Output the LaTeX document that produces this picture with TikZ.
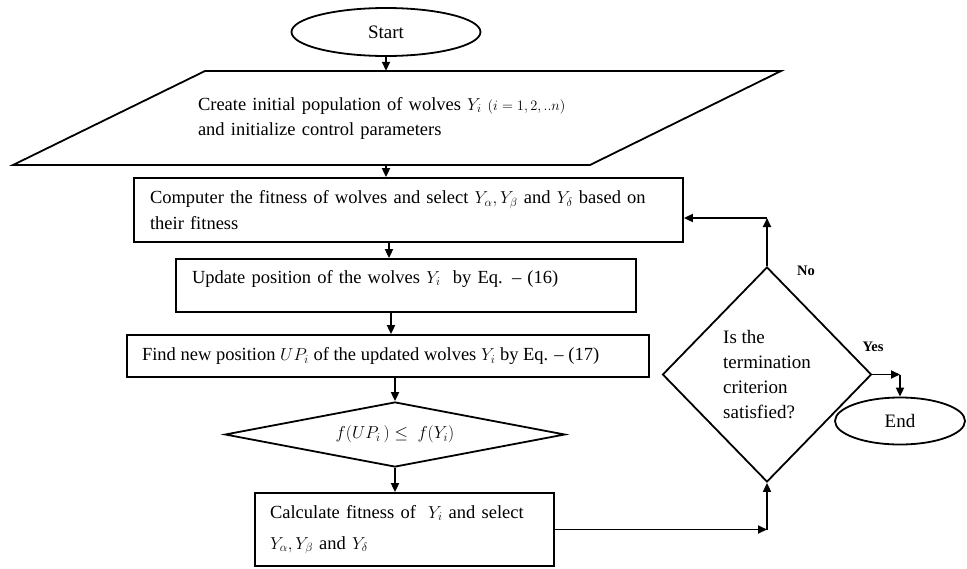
\documentclass[tikz,border=0pt]{standalone}
\usepackage{fontspec}
\setmainfont{Liberation Serif}
\usetikzlibrary{shapes.geometric,arrows.meta,calc}
\begin{document}
\begin{tikzpicture}[x=1pt,y=-1pt,
  lw/.style={line width=1.8pt},
  arr/.style={lw,-{Triangle[length=9pt,width=8pt]}},
  procbox/.style={draw,lw,rectangle,inner ysep=0pt,align=left,
    font=\fontsize{18.5}{26}\selectfont},
  term/.style={draw,lw,ellipse,inner sep=0pt,font=\fontsize{19}{22}\selectfont},
  decide/.style={draw,lw,diamond,inner sep=0pt},
  lbl/.style={font=\fontsize{14.5}{16}\selectfont\bfseries,inner sep=0pt}]
\useasboundingbox (0,0) rectangle (967,568);

% terminals
\node[term,minimum width=189pt,minimum height=48pt] (start) at (386,32) {Start};
\node[term,minimum width=130pt,minimum height=47pt] (end) at (900,421) {End};

% input parallelogram
\draw[lw] (205,71) -- (781,71) -- (590,165) -- (13,165) -- cycle;
\node[inner sep=0pt,minimum height=94pt,text width=398pt,align=left,
  font=\fontsize{18.5}{25}\selectfont] (init) at (397,118)
  {Create initial population of wolves $Y_i$ {\fontsize{14}{14}\selectfont$(i = 1,2,..n)$}\\and initialize control parameters};

% process boxes
\node[procbox,inner xsep=16pt,text width=517pt,minimum height=64pt] (compute) at (408.5,210)
  {Computer the fitness of wolves and select $Y_\alpha, Y_\beta$ and $Y_\delta$ based on\\their fitness};
\node[procbox,inner xsep=16pt,text width=428pt,minimum height=53pt,text height=12pt,text depth=17pt] (update) at (406,285.5)
  {Update position of the wolves $Y_i$\ \ by Eq. -- (16)};
\node[procbox,inner xsep=15pt,minimum height=42pt] (find) at (388,356)
  {\makebox[492pt][l]{Find new position $UP_i$ of the updated wolves $Y_i$ by Eq. -- (17)}};
\node[procbox,inner xsep=15pt,text width=269pt,minimum height=73pt,
  font=\fontsize{18.5}{31}\selectfont] (calc) at (404.5,529.5)
  {Calculate fitness of\ \ $Y_i$ and select\\$Y_\alpha, Y_\beta$ and $Y_\delta$};

% decisions
\node[decide,minimum width=340pt,minimum height=65pt,aspect=5,
  font=\fontsize{18.5}{22}\selectfont] (dec1) at (395,434.5)
  {$f(UP_i\,)\leq\; f(Y_i)$};
\node[decide,minimum width=209pt,minimum height=215pt,aspect=1,align=left,
  font=\fontsize{19}{25}\selectfont] (dec2) at (767,374.5)
  {Is the\\termination\\criterion\\satisfied?};

% main column arrows
\draw[arr] (start.south) -- (start.south |- init.north);
\draw[arr] (start.south |- init.south) -- (start.south |- compute.north);
\draw[arr] ([xshift=-6pt]dec1.north |- compute.south) -- ([xshift=-6pt]dec1.north |- update.north);
\draw[arr] ([xshift=-4pt]dec1.north |- update.south) -- ([xshift=-4pt]dec1.north |- find.north);
\draw[arr] (dec1.north |- find.south) -- (dec1.north);
\draw[arr] (dec1.south) -- (dec1.south |- calc.north);

% calc -> termination test
\coordinate (ccorner) at (calc.east -| dec2.south);
\draw[arr] (calc.east) -- (ccorner);
\draw[arr] (ccorner) -- (dec2.south);

% No branch
\coordinate (nocorner) at (767,218);
\draw[arr] (dec2.north) -- (nocorner);
\draw[arr] (nocorner) -- (nocorner -| compute.east);
\node[lbl] (nolbl) at (806,271) {No};

% Yes branch
\coordinate (yescorner) at (dec2.east -| end.north);
\draw[arr] (dec2.east) -- (yescorner);
\draw[arr] (yescorner) -- (end.north);
\node[lbl] (yeslbl) at (873,347) {Yes};
\end{tikzpicture}
\end{document}
